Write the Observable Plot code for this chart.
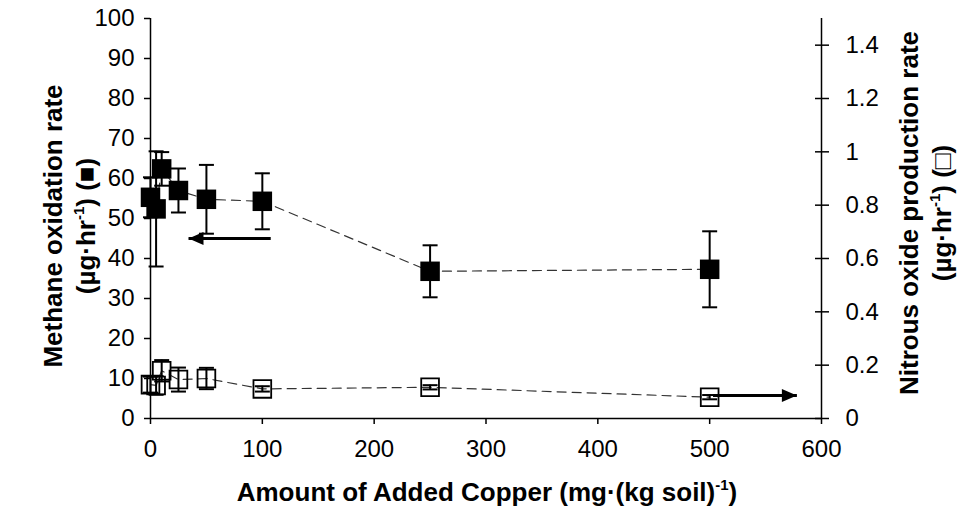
<!DOCTYPE html>
<html>
<head>
<meta charset="utf-8">
<script src="https://cdn.jsdelivr.net/npm/d3@7"></script>
<script src="https://cdn.jsdelivr.net/npm/@observablehq/plot@0.6"></script>
<style>
  html, body { margin: 0; padding: 0; background: #fff; }
  #chart { width: 959px; height: 525px; }
</style>
</head>
<body>
<div id="chart"></div>
<script>
// ---- data ----
const copper = [0, 5, 10, 25, 50, 100, 250, 500];
const methane = [55.3, 52.4, 62.4, 57.0, 54.8, 54.3, 36.8, 37.3];
const methaneErr = [5.0, 14.4, 4.2, 5.5, 8.6, 7.0, 6.5, 9.5];
const nitrous = [0.127, 0.124, 0.179, 0.146, 0.150, 0.111, 0.117, 0.080];
const nitrousErr = [0.03, 0.035, 0.04, 0.045, 0.04, 0.01, 0.008, 0.008];

const xTicks = [0, 100, 200, 300, 400, 500, 600];
const yLeftTicks = [0, 10, 20, 30, 40, 50, 60, 70, 80, 90, 100];
const yRightTicks = [0, 0.2, 0.4, 0.6, 0.8, 1.0, 1.2, 1.4];
const yRightLabels = ["0", "0.2", "0.4", "0.6", "0.8", "1", "1.2", "1.4"];
const yLeftMax = 100;
const yRightMax = 1.5;

// annotation arrows (which axis each one refers to)
const arrowFrom = [107.5, 503];
const arrowTo = [34, 578];
const arrowLevel = [45, 0.086];
const arrowAxis = ["left", "right"];

// ---- build tables ----
const toLeft = v => v * yLeftMax / yRightMax;
const rows = copper.map((c, i) => ({
  x: c,
  m: methane[i], mLo: methane[i] - methaneErr[i], mHi: methane[i] + methaneErr[i],
  n: toLeft(nitrous[i]), nLo: toLeft(nitrous[i] - nitrousErr[i]), nHi: toLeft(nitrous[i] + nitrousErr[i])
}));
const arrows = arrowFrom.map((x1, i) => ({
  x1, x2: arrowTo[i],
  y: arrowAxis[i] === "left" ? arrowLevel[i] : toLeft(arrowLevel[i]),
  dir: arrowTo[i] < x1 ? "left" : "right"
}));
const rightLabelOf = new Map(yRightTicks.map((v, i) => [toLeft(v), yRightLabels[i]]));

// custom symbols
const capSymbol = { draw(ctx) { ctx.moveTo(-7.5, 0); ctx.lineTo(7.5, 0); } };
const headLeft = { draw(ctx) { ctx.moveTo(0, 0); ctx.lineTo(15, -6.5); ctx.lineTo(15, 6.5); ctx.closePath(); } };
const headRight = { draw(ctx) { ctx.moveTo(0, 0); ctx.lineTo(-15, -6.5); ctx.lineTo(-15, 6.5); ctx.closePath(); } };
const squareR = 19.5 / Math.sqrt(Math.PI);

const plot = Plot.plot({
  width: 959,
  height: 525,
  marginLeft: 150,
  marginRight: 138,
  marginTop: 18,
  marginBottom: 107,
  style: { fontFamily: "'Liberation Sans', Arial, sans-serif", fontSize: "24px", color: "#000", background: "#fff" },
  x: { domain: [0, 600] },
  y: { domain: [0, yLeftMax] },
  marks: [
    // axis lines
    Plot.ruleX([0, 600], { stroke: "#000", strokeWidth: 1.5 }),
    Plot.ruleY([0], { stroke: "#000", strokeWidth: 1.5 }),
    Plot.axisX(xTicks, { anchor: "bottom", tickSize: 6, tickPadding: 15, label: null, strokeWidth: 1.5 }),
    Plot.axisY(yLeftTicks, { anchor: "left", tickSize: 6, tickPadding: 10, label: null, strokeWidth: 1.5 }),
    Plot.axisY(yRightTicks.map(toLeft), {
      anchor: "right", tickSize: 14, dx: -7, tickPadding: 17, label: null, strokeWidth: 1.5,
      tickFormat: d => rightLabelOf.get(d)
    }),
    // dashed connecting lines
    Plot.line(rows, { x: "x", y: "m", stroke: "#333", strokeWidth: 1.2, strokeDasharray: "9,6" }),
    Plot.line(rows, { x: "x", y: "n", stroke: "#333", strokeWidth: 1.2, strokeDasharray: "9,6" }),
    // methane error bars
    Plot.ruleX(rows, { x: "x", y1: "mLo", y2: "mHi", stroke: "#000", strokeWidth: 2 }),
    Plot.dot(rows, { x: "x", y: "mLo", symbol: capSymbol, r: 5, stroke: "#000", strokeWidth: 2, fill: "none" }),
    Plot.dot(rows, { x: "x", y: "mHi", symbol: capSymbol, r: 5, stroke: "#000", strokeWidth: 2, fill: "none" }),
    // methane squares
    Plot.dot(rows, { x: "x", y: "m", symbol: "square", r: squareR, fill: "#000", stroke: "none" }),
    // nitrous oxide squares
    Plot.dot(rows, { x: "x", y: "n", symbol: "square", r: squareR - 1, fill: "none", stroke: "#000", strokeWidth: 1.8 }),
    // nitrous error bars
    Plot.ruleX(rows, { x: "x", y1: "nLo", y2: "nHi", stroke: "#000", strokeWidth: 2 }),
    Plot.dot(rows, { x: "x", y: "nLo", symbol: capSymbol, r: 5, stroke: "#000", strokeWidth: 2, fill: "none" }),
    Plot.dot(rows, { x: "x", y: "nHi", symbol: capSymbol, r: 5, stroke: "#000", strokeWidth: 2, fill: "none" }),
    // annotation arrows
    Plot.link(arrows, { x1: "x1", x2: "x2", y1: "y", y2: "y", stroke: "#000", strokeWidth: 3 }),
    Plot.dot(arrows.filter(a => a.dir === "left"), { x: "x2", y: "y", symbol: headLeft, r: 5, fill: "#000", stroke: "none" }),
    Plot.dot(arrows.filter(a => a.dir === "right"), { x: "x2", y: "y", symbol: headRight, r: 5, fill: "#000", stroke: "none" })
  ]
});

document.getElementById("chart").appendChild(plot);

// ---- axis titles with superscripts ----
const svg = d3.select(plot);
const titleFont = "'Liberation Sans', Arial, sans-serif";

function addTitle(x, y, rotate, parts) {
  const t = svg.append("text")
    .attr("transform", `translate(${x},${y}) rotate(${rotate})`)
    .attr("text-anchor", "middle")
    .attr("font-family", titleFont)
    .attr("font-size", 26)
    .attr("font-weight", "bold")
    .attr("fill", "#000");
  parts.forEach(p => {
    const s = t.append("tspan").text(p.text);
    if (p.sup) s.attr("font-size", 15).attr("dy", "-11");
    if (p.after) s.attr("dy", "11");
  });
}

addTitle(487, 501, 0, [
  { text: "Amount of Added Copper (mg·(kg soil)" },
  { text: "-1", sup: true },
  { text: ")", after: true }
]);
addTitle(62, 226, -90, [{ text: "Methane oxidation rate" }]);
addTitle(95, 226, -90, [
  { text: "(µg·hr" },
  { text: "-1", sup: true },
  { text: ") (■)", after: true }
]);
addTitle(918, 213, -90, [{ text: "Nitrous oxide production rate" }]);
addTitle(951, 213, -90, [
  { text: "(µg·hr" },
  { text: "-1", sup: true },
  { text: ") (□)", after: true }
]);
</script>
</body>
</html>
